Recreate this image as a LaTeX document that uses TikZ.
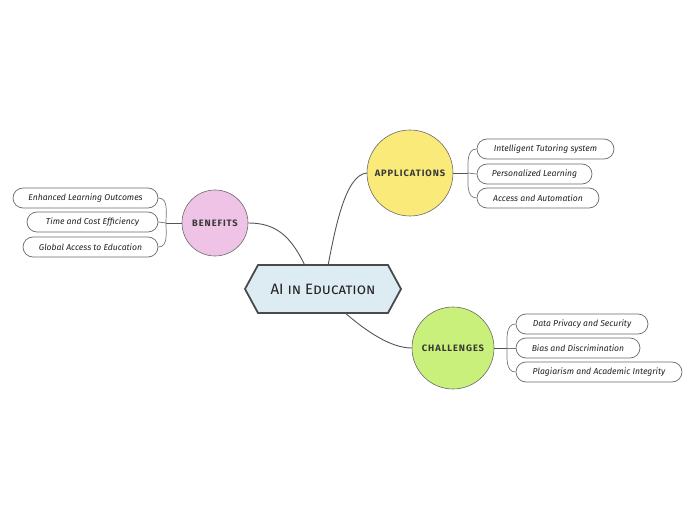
\documentclass[tikz,border=0pt]{standalone}
\usepackage{fontspec}
\setmainfont{Fira Sans}
\newfontfamily\toplab[LetterSpace=10]{Fira Sans}
\usetikzlibrary{shapes.symbols}
\definecolor{ctrfill}{HTML}{DDEBF2}
\definecolor{ctrline}{HTML}{4A4A4A}
\definecolor{appfill}{HTML}{FAEA7A}
\definecolor{benfill}{HTML}{EEC3E5}
\definecolor{chafill}{HTML}{C8F07A}
\definecolor{linegray}{HTML}{555555}
\definecolor{boxline}{HTML}{6A6A6A}
\definecolor{txt}{HTML}{222222}
\tikzset{
  central/.style={signal, signal to=west and east, signal pointer angle=123,
    draw=ctrline, line width=1.8pt, fill=ctrfill, minimum width=156pt, minimum height=48pt,
    inner sep=0pt, text=txt, font=\fontsize{15}{17}\selectfont\addfontfeature{Letters=SmallCaps}},
  topic/.style={circle, draw=boxline, line width=0.6pt, inner sep=0pt, text=txt!90,
    font=\toplab\bfseries\fontsize{9.3}{11}\selectfont},
  sub/.style={draw=boxline, line width=0.7pt, fill=white, rounded corners=10pt, text=txt,
    minimum height=20pt, inner sep=0pt, font=\fontsize{8.6}{10}\selectfont\itshape},
  conn/.style={draw=linegray, line width=0.9pt},
  br/.style={draw=linegray!80, line width=0.7pt}
}
\begin{document}
\begin{tikzpicture}[x=1pt,y=1pt]
\useasboundingbox (0,0) rectangle (696,520);
% nodes
\node[central] (ctr) at (323,231) {AI in Education};
\node[topic, fill=appfill, minimum size=86pt] (app) at (410,347) {APPLICATIONS};
\node[topic, fill=benfill, minimum size=66pt] (ben) at (215,297) {BENEFITS};
\node[topic, fill=chafill, minimum size=82pt] (cha) at (453,172) {CHALLENGES};
% applications children
\node[sub, minimum width=137pt] (a1) at (545.5,371) {Intelligent Tutoring system};
\node[sub, minimum width=115pt] (a2) at (534.5,346) {Personalized Learning};
\node[sub, minimum width=122pt] (a3) at (538,322) {Access and Automation};
% benefits children
\node[sub, minimum width=145pt] (b1) at (85.5,322) {Enhanced Learning Outcomes};
\node[sub, minimum width=131pt] (b2) at (92.5,298) {Time and Cost Efficiency};
\node[sub, minimum width=135pt] (b3) at (90.5,273) {Global Access to Education};
% challenges children
\node[sub, minimum width=132pt] (c1) at (582,196) {Data Privacy and Security};
\node[sub, minimum width=124pt] (c2) at (578,172) {Bias and Discrimination};
\node[sub, minimum width=166pt] (c3) at (599,148) {Plagiarism and Academic Integrity};
% junctions
\coordinate (aj) at (468,347);
\coordinate (bj) at (166,297);
\coordinate (cj) at (507,172);
% main connectors
\draw[conn] (ctr.78) .. controls (335,290) and (345,345) .. (app.west);
\draw[conn] (ctr.127) .. controls (290,285) and (275,297) .. (ben.east);
\draw[conn] (ctr.-47) .. controls (365,190) and (390,172) .. (cha.west);
% branches
\draw[conn] (app.east) -- (aj);
\draw[br] (aj) to[out=90,in=180] (a1.west);
\draw[br] (aj) -- (a2.west);
\draw[br] (aj) to[out=-90,in=180] (a3.west);
\draw[conn] (ben.west) -- (bj);
\draw[br] (bj) to[out=90,in=0] (b1.east);
\draw[br] (bj) -- (b2.east);
\draw[br] (bj) to[out=-90,in=0] (b3.east);
\draw[conn] (cha.east) -- (cj);
\draw[br] (cj) to[out=90,in=180] (c1.west);
\draw[br] (cj) -- (c2.west);
\draw[br] (cj) to[out=-90,in=180] (c3.west);
\end{tikzpicture}
\end{document}
